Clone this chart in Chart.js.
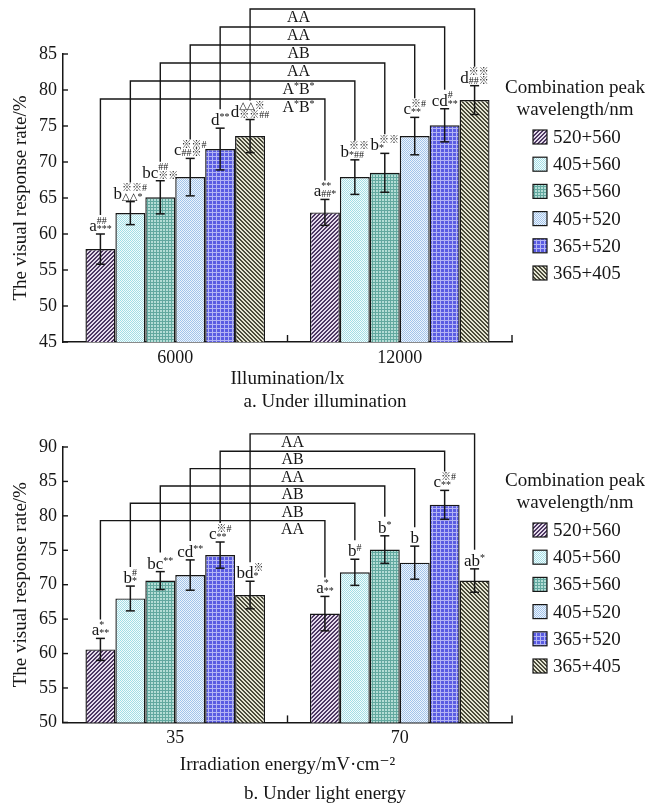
<!DOCTYPE html>
<html>
<head>
<meta charset="utf-8">
<script src="https://cdn.jsdelivr.net/npm/chart.js@4.4.1/dist/chart.umd.min.js"></script>
<style>
  body { margin: 0; background: #fff; }
  .box { position: absolute; left: 0; width: 647px; }
</style>
</head>
<body>
<div class="box" style="top:0;height:420px"><canvas id="chartA" width="647" height="420"></canvas></div>
<div class="box" style="top:420px;height:388px"><canvas id="chartB" width="647" height="388"></canvas></div>
<script>
// series = combination peak wavelength
const seriesNames = ["520+560", "405+560", "365+560", "405+520", "365+520", "365+405"];

// a. under illumination
const illumLabels = ["6000", "12000"];
const illumTicks = [45, 50, 55, 60, 65, 70, 75, 80, 85];
const illum6000Mean = [57.9, 62.9, 65.1, 67.9, 71.8, 73.6];
const illum6000Err = [2.1, 1.6, 2.3, 2.6, 2.9, 2.3];
const illum12000Mean = [63.0, 67.9, 68.5, 73.6, 75.1, 78.6];
const illum12000Err = [1.8, 2.4, 2.7, 2.6, 2.3, 2.0];
const illum6000Marks = [["a", "##", "***"], ["b", "※※#", "△△*"], ["bc", "##", "※※"], ["c", "※※#", "##※"], ["d", "**", ""], ["d", "△△※", "※※##"]];
const illum12000Marks = [["a", "**", "##*"], ["b", "※※", "*##"], ["b", "※※", "*"], ["c", "※#", "**"], ["cd", "#", "**"], ["d", "※※", "##※"]];
const illumPairs = ["A*B*", "A*B*", "AA", "AB", "AA", "AA"];

// b. under light energy
const energyLabels = ["35", "70"];
const energyTicks = [50, 55, 60, 65, 70, 75, 80, 85, 90];
const energy35Mean = [60.6, 68.0, 70.6, 71.4, 74.3, 68.5];
const energy35Err = [1.6, 1.8, 1.3, 2.2, 1.9, 2.0];
const energy70Mean = [65.8, 71.8, 75.1, 73.2, 81.6, 70.6];
const energy70Err = [2.5, 1.9, 2.0, 2.4, 2.1, 1.7];
const energy35Marks = [["a", "*", "**"], ["b", "#", "*"], ["bc", "**", ""], ["cd", "**", ""], ["c", "※#", "**"], ["bd", "※", "*"]];
const energy70Marks = [["a", "*", "**"], ["b", "#", ""], ["b", "*", ""], ["b", "", ""], ["c", "※#", "**"], ["ab", "*", ""]];
const energyPairs = ["AA", "AB", "AB", "AA", "AB", "AA"];

const SERIF = '"Liberation Serif", "DejaVu Serif", "Noto Sans CJK SC", serif';
const INK = "#161616";
Chart.defaults.font.family = SERIF;
Chart.defaults.color = INK;

// fill patterns for the bars
function tile(size, light, dark, test) {
  const c = document.createElement("canvas");
  c.width = size; c.height = size;
  const g = c.getContext("2d");
  for (let x = 0; x < size; x++) {
    for (let y = 0; y < size; y++) {
      g.fillStyle = test(x, y) ? dark : light;
      g.fillRect(x, y, 1, 1);
    }
  }
  return g.createPattern(c, "repeat");
}
const patterns = [
  tile(4, "#e6dcec", "#4d3862", (x, y) => (x + y) % 4 < 2),          // "/" purple hatch
  tile(2, "#f4fcfd", "#a3dee5", (x, y) => (x + y) % 2 === 0),        // cyan checker
  tile(3, "#b4ddd6", "#62a89f", (x, y) => x === 0 || y === 0),       // teal grid
  tile(2, "#eef4fc", "#a2c4ea", (x, y) => (x + y) % 2 === 0),        // light blue checker
  tile(4, "#5a5ce2", "#b3b4f4", (x, y) => x === 0 || y === 0),       // blue grid
  tile(4, "#e4e4d2", "#4a4a3a", (x, y) => ((x - y) % 4 + 4) % 4 < 2)  // "\" olive hatch
];

function line(ctx, x1, y1, x2, y2) {
  ctx.beginPath(); ctx.moveTo(x1, y1); ctx.lineTo(x2, y2); ctx.stroke();
}

// letter + stacked superscript/subscript significance marks
function drawMark(ctx, mark, cx, baseY) {
  const [base, sup, sub] = mark;
  const big = "17px " + SERIF, small = "10px " + SERIF;
  ctx.font = big;
  const bw = ctx.measureText(base).width;
  ctx.font = small;
  const sw = Math.max(sup ? ctx.measureText(sup).width : 0, sub ? ctx.measureText(sub).width : 0);
  const x = cx - (bw + sw) / 2;
  ctx.textAlign = "left"; ctx.textBaseline = "alphabetic";
  ctx.font = big; ctx.fillText(base, x, baseY);
  ctx.font = small;
  if (sup) ctx.fillText(sup, x + bw, sub ? baseY - 7.5 : baseY - 5);
  if (sub) ctx.fillText(sub, x + bw, baseY + 1);
}

// "A*B*" style labels: '*' raised and small
function drawPairLabel(ctx, text, cx, cy) {
  const big = "16px " + SERIF, small = "10px " + SERIF;
  const parts = text.split("").map(ch => ({ ch, f: ch === "*" ? small : big, dy: ch === "*" ? -4 : 0 }));
  let total = 0;
  parts.forEach(p => { ctx.font = p.f; p.w = ctx.measureText(p.ch).width; total += p.w; });
  let x = cx - total / 2;
  ctx.textAlign = "left"; ctx.textBaseline = "middle";
  parts.forEach(p => { ctx.font = p.f; ctx.fillText(p.ch, x, cy + p.dy); x += p.w; });
}

function extras(cfg) {
  return {
    id: "extras",
    afterDraw(chart) {
      const ctx = chart.ctx, ys = chart.scales.y, area = chart.chartArea;
      ctx.save();
      ctx.strokeStyle = INK; ctx.fillStyle = INK; ctx.lineWidth = 1.4;

      // inward tick marks
      ys.ticks.forEach(t => {
        const py = ys.getPixelForValue(t.value);
        line(ctx, area.left, py, area.left + 5, py);
      });
      const n = chart.data.labels.length;
      for (let k = 1; k <= n; k++) {
        const px = area.left + k * (area.right - area.left) / n;
        line(ctx, px, area.bottom, px, area.bottom - 7);
      }

      // error bars + marks
      const errTop = [];
      seriesNames.forEach((_, i) => {
        errTop[i] = [];
        chart.getDatasetMeta(i).data.forEach((bar, j) => {
          const m = cfg.means[j][i], e = cfg.errs[j][i];
          const hi = ys.getPixelForValue(m + e), lo = ys.getPixelForValue(m - e);
          ctx.lineWidth = 1.5;
          line(ctx, bar.x, hi, bar.x, lo);
          line(ctx, bar.x - 4.5, hi, bar.x + 4.5, hi);
          line(ctx, bar.x - 4.5, lo, bar.x + 4.5, lo);
          errTop[i][j] = hi;
          drawMark(ctx, cfg.marks[j][i], bar.x, hi - 3);
        });
      });

      // brackets between the two groups
      ctx.lineWidth = 1.4;
      seriesNames.forEach((_, i) => {
        const d = chart.getDatasetMeta(i).data;
        const yl = ys.getPixelForValue(cfg.bracketBase + cfg.bracketStep * i);
        ctx.beginPath();
        ctx.moveTo(d[0].x, errTop[i][0] - 19);
        ctx.lineTo(d[0].x, yl);
        ctx.lineTo(d[1].x, yl);
        ctx.lineTo(d[1].x, errTop[i][1] - 19);
        ctx.stroke();
        drawPairLabel(ctx, cfg.pairs[i], (area.left + area.right) / 2 + cfg.pairShift, yl + 9);
      });

      // legend
      ctx.font = "19px " + SERIF;
      ctx.textAlign = "center"; ctx.textBaseline = "middle";
      ctx.fillText("Combination peak", 575, area.top + 34);
      ctx.fillText("wavelength/nm", 575, area.top + 56);
      ctx.textAlign = "left";
      seriesNames.forEach((name, i) => {
        const cy = area.top + 83 + i * 27.2;
        ctx.fillStyle = patterns[i];
        ctx.fillRect(533, cy - 7, 14, 14);
        ctx.lineWidth = 1.2;
        ctx.strokeRect(533, cy - 7, 14, 14);
        ctx.fillStyle = INK;
        ctx.fillText(name, 553, cy + 1);
      });

      // caption
      ctx.textAlign = "center";
      ctx.fillText(cfg.caption, 325, cfg.captionY);
      ctx.restore();
    }
  };
}

function makeChart(id, cfg) {
  new Chart(document.getElementById(id), {
    type: "bar",
    data: {
      labels: cfg.labels,
      datasets: seriesNames.map((name, i) => ({
        label: name,
        data: cfg.means.map(group => group[i]),
        backgroundColor: patterns[i],
        borderColor: INK,
        borderWidth: 1.4,
        categoryPercentage: 0.8,
        barPercentage: 1.0
      }))
    },
    options: {
      responsive: false,
      animation: false,
      layout: { padding: cfg.padding },
      plugins: { legend: { display: false }, tooltip: { enabled: false } },
      scales: {
        x: {
          grid: { display: false, drawTicks: false },
          border: { display: true, color: INK, width: 1.5 },
          ticks: { font: { size: 18 }, padding: 5 },
          title: { display: true, text: cfg.xTitle, font: { size: 19 }, padding: { top: 0, bottom: 0 } },
          afterFit: s => { s.height = cfg.xHeight; }
        },
        y: {
          min: cfg.ticks[0],
          max: cfg.ticks[cfg.ticks.length - 1],
          grid: { display: false, drawTicks: false },
          border: { display: true, color: INK, width: 1.5 },
          ticks: { font: { size: 18 }, padding: 6 },
          afterBuildTicks: s => { s.ticks = cfg.ticks.map(v => ({ value: v })); },
          title: { display: true, text: "The visual response rate/%", font: { size: 19 }, padding: { top: 10, bottom: 0 } },
          afterFit: s => { s.width = 63; }
        }
      }
    },
    plugins: [extras(cfg)]
  });
}

makeChart("chartA", {
  labels: illumLabels,
  ticks: illumTicks,
  means: [illum6000Mean, illum12000Mean],
  errs: [illum6000Err, illum12000Err],
  marks: [illum6000Marks, illum12000Marks],
  pairs: illumPairs,
  bracketBase: 78.75, bracketStep: 2.5, pairShift: 11,
  xTitle: "Illumination/lx",
  caption: "a. Under illumination", captionY: 402,
  padding: { top: 54, right: 135, bottom: 30, left: 0 },
  xHeight: 48
});

makeChart("chartB", {
  labels: energyLabels,
  ticks: energyTicks,
  means: [energy35Mean, energy70Mean],
  errs: [energy35Err, energy70Err],
  marks: [energy35Marks, energy70Marks],
  pairs: energyPairs,
  bracketBase: 79.3, bracketStep: 2.52, pairShift: 5,
  xTitle: "Irradiation energy/mV·cm⁻²",
  caption: "b. Under light energy", captionY: 374,
  padding: { top: 27, right: 135, bottom: 31.6, left: 0 },
  xHeight: 54
});
</script>
</body>
</html>
